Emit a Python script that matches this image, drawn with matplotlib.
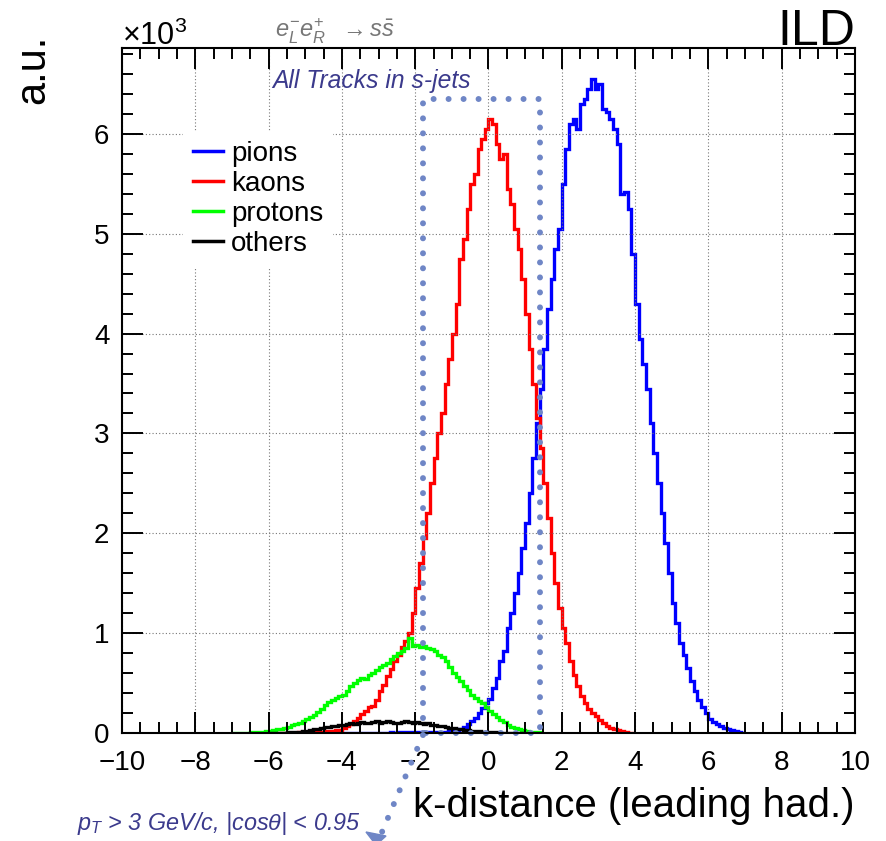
import numpy as np
import matplotlib.pyplot as plt
from matplotlib.lines import Line2D
from matplotlib.patches import Polygon

plt.rcParams['font.family'] = ['Liberation Sans', 'DejaVu Sans']
plt.rcParams['mathtext.fontset'] = 'custom'
plt.rcParams['mathtext.rm'] = 'Liberation Sans'
plt.rcParams['mathtext.it'] = 'Liberation Sans:italic'

# k-distance histograms, bin width 0.1, values in units of 1e3
pion_start = -4.0
pions = [0.002, 0.002, 0.003, 0.002, 0.003, 0.003, 0.004, 0.003, 0.004, 0.004,
         0.005, 0.004, 0.005, 0.006, 0.005, 0.006, 0.007, 0.006, 0.007, 0.008,
         0.008, 0.009, 0.010, 0.010, 0.011, 0.012, 0.013, 0.014, 0.015, 0.017,
         0.02, 0.03, 0.045, 0.06, 0.09, 0.12, 0.15, 0.2, 0.25, 0.3,
         0.34, 0.45, 0.55, 0.72, 0.82, 1.05, 1.2, 1.4, 1.6, 1.85,
         2.1, 2.4, 2.75, 3.1, 3.45, 3.85, 4.25, 4.55, 4.85, 5.05,
         5.5, 5.85, 6.1, 6.15, 6.05, 6.3, 6.35, 6.45, 6.55, 6.45,
         6.5, 6.25, 6.22, 6.15, 6.05, 5.9, 5.4, 5.42, 5.25, 4.8,
         4.3, 3.95, 3.7, 3.45, 3.1, 2.8, 2.5, 2.2, 1.9, 1.6,
         1.3, 1.1, 0.9, 0.78, 0.65, 0.52, 0.42, 0.33, 0.26, 0.2,
         0.14, 0.11, 0.09, 0.07, 0.05, 0.04, 0.03, 0.02, 0.01, 0.005]

kaon_start = -6.0
kaons = [0.001, 0.001, 0.002, 0.002, 0.003, 0.003, 0.004, 0.005, 0.006, 0.007,
         0.008, 0.009, 0.010, 0.012, 0.014, 0.016, 0.019, 0.022, 0.026, 0.03,
         0.05, 0.07, 0.09, 0.12, 0.15, 0.19, 0.22, 0.26, 0.27, 0.33,
         0.42, 0.48, 0.57, 0.64, 0.72, 0.78, 0.86, 0.92, 1.0, 1.2,
         1.45, 1.7, 1.95, 2.2, 2.5, 2.75, 3.0, 3.2, 3.5, 3.75,
         4.0, 4.3, 4.75, 4.95, 5.25, 5.5, 5.6, 5.85, 5.95, 6.05,
         6.15, 6.1, 5.9, 5.75, 5.8, 5.45, 5.3, 5.05, 4.85, 4.55,
         4.2, 3.85, 3.5, 3.15, 2.85, 2.5, 2.15, 1.8, 1.5, 1.25,
         1.05, 0.9, 0.72, 0.58, 0.47, 0.37, 0.3, 0.24, 0.2, 0.17,
         0.13, 0.1, 0.07, 0.05, 0.04, 0.03, 0.02, 0.01, 0.005, 0.003]

proton_start = -7.0
protons = [0.001, 0.002, 0.003, 0.004, 0.005, 0.007, 0.009, 0.012, 0.015, 0.02,
           0.025, 0.03, 0.037, 0.045, 0.055, 0.065, 0.08, 0.09, 0.105, 0.12,
           0.14, 0.16, 0.18, 0.21, 0.24, 0.28, 0.31, 0.33, 0.35, 0.37,
           0.38, 0.42, 0.47, 0.5, 0.53, 0.55, 0.54, 0.58, 0.6, 0.63,
           0.66, 0.68, 0.7, 0.74, 0.77, 0.8, 0.82, 0.85, 0.95, 0.87,
           0.88, 0.86, 0.87, 0.85, 0.84, 0.82, 0.78, 0.76, 0.72, 0.66,
           0.6, 0.56, 0.52, 0.47, 0.43, 0.38, 0.35, 0.32, 0.3, 0.26,
           0.22, 0.19, 0.16, 0.13, 0.11, 0.08, 0.06, 0.05, 0.04, 0.03,
           0.02, 0.015, 0.01, 0.006, 0.003]

other_start = -6.0
others = [0.001, 0.002, 0.003, 0.004, 0.005, 0.007, 0.009, 0.011, 0.014, 0.017,
          0.02, 0.03, 0.04, 0.045, 0.05, 0.06, 0.065, 0.07, 0.075, 0.08,
          0.085, 0.09, 0.1, 0.095, 0.1, 0.11, 0.1, 0.105, 0.11, 0.12,
          0.1, 0.11, 0.12, 0.11, 0.105, 0.1, 0.11, 0.12, 0.11, 0.1,
          0.11, 0.1, 0.09, 0.1, 0.085, 0.08, 0.07, 0.075, 0.06, 0.055,
          0.05, 0.045, 0.04, 0.035, 0.03, 0.025, 0.02, 0.018, 0.015, 0.012,
          0.01, 0.008, 0.006, 0.005, 0.004, 0.003, 0.002, 0.002, 0.001, 0.001]

bin_width = 0.1
series = [("pions", pion_start, pions, "#0000ff"),
          ("kaons", kaon_start, kaons, "#ff0000"),
          ("protons", proton_start, protons, "#00ff00"),
          ("others", other_start, others, "#000000")]

fig = plt.figure(figsize=(8.87, 8.41), dpi=100)
ax = fig.add_axes([122/887, 1-733/841, 733/887, 685/841])

for name, start, vals, col in series:
    edges = start + bin_width*np.arange(len(vals)+1)
    ax.stairs(vals, edges, color=col, lw=2.4, label=name, baseline=0)

ax.set_xlim(-10, 10)
ax.set_ylim(0, 6.86)
ax.set_xticks(np.arange(-10, 11, 2))
ax.set_xticks(np.arange(-10, 10.01, 0.5), minor=True)
ax.set_yticks(np.arange(0, 7, 1))
ax.set_yticks(np.arange(0, 6.9, 0.2), minor=True)
ax.set_xticklabels([str(v).replace('-', '\u2212') for v in range(-10, 11, 2)])
ax.tick_params(which='both', direction='in', top=True, right=True, width=1.4, labelsize=20)
ax.tick_params(which='major', length=15)
ax.tick_params(which='minor', length=8)
ax.tick_params(axis='x', which='major', pad=12)
ax.tick_params(axis='y', which='major', pad=9)
for s in ax.spines.values():
    s.set_linewidth(1.5)
ax.grid(True, which='major', color='#777777', lw=0.8, ls=(0, (1, 2)))

leg = ax.legend(loc='upper left', bbox_to_anchor=(0.083, 0.879), borderaxespad=0,
                fontsize=20, handlelength=1.08, handletextpad=0.3, labelspacing=0.15,
                borderpad=0.35, frameon=True, fancybox=False, framealpha=1,
                edgecolor='none', facecolor='white')
for h in leg.get_lines():
    h.set_linewidth(2.5)

ax.set_xlabel("k-distance (leading had.)", fontsize=29, loc='right', labelpad=8)
fig.text(33/887, 1-69/841, "a.u.", rotation=90, fontsize=30, ha='center', va='center')
fig.text(855/887, 1-45/841, "ILD", fontsize=36, ha='right', va='baseline')
fig.text(122/887, 1-45/841, r"$\times$10$^{3}$", fontsize=22, ha='left', va='baseline')
fig.text(275/887, 1-38/841, r"$e^{-}_{L}e^{+}_{R}$  $\rightarrow s\bar{s}$", fontsize=17,
         color='#777777', ha='left', va='baseline')
fig.text(272/887, 1-88/841, "All Tracks in s-jets", fontsize=17.7, style='italic',
         color='#3b3a8c', ha='left', va='baseline')
fig.text(77/887, 1-830/841, r"$p_{T}$ > 3 GeV/c, |cos$\theta$| < 0.95", fontsize=16.8,
         style='italic', color='#3b3a8c', ha='left', va='baseline')

# dotted callout box
box_x = [-1.8, -1.8, 1.4, 1.4, -1.8]
box_y = [0.0, 6.35, 6.35, 0.0, 0.0]
dot = dict(color='#6f86c6', lw=4.3, ls=(0, (0.01, 2.5)), dash_capstyle='round', clip_on=False)
ax.plot(box_x, box_y, **dot)
fig.add_artist(Line2D([423/887, 382/887], [1-735/841, 1-832/841], **dot))
fig.add_artist(Polygon([[366/887, 1-832/841], [386/887, 1-836/841], [376/887, 1-845/841]],
                       closed=True, color='#6f86c6', clip_on=False))

fig.savefig("out.png", dpi=100)
